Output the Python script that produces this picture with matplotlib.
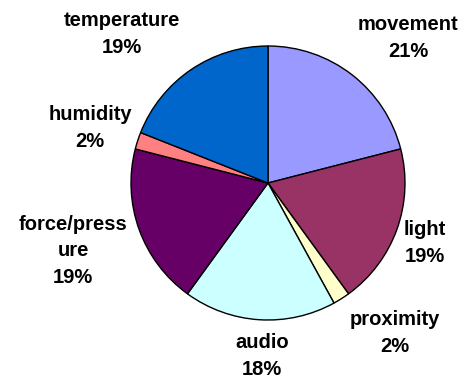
import matplotlib
matplotlib.use("Agg")
import matplotlib.pyplot as plt

categories = ["movement", "light", "proximity", "audio", "force/pressure", "humidity", "temperature"]
values = [21, 19, 2, 18, 19, 2, 19]
label_texts = ["movement\n21%", "light\n19%", "proximity\n2%", "audio\n18%",
               "force/press\nure\n19%", "humidity\n2%", "temperature\n19%"]
colors = ["#9999FF", "#993366", "#FFFFCC", "#CCFFFF", "#660066", "#FF8080", "#0066CC"]

# label centre positions in pixel coordinates (x, y from top)
label_pos = [(408, 38), (425, 243), (395, 333), (262, 356), (73, 251), (90, 128), (122, 34)]

W, H = 469, 381
fig = plt.figure(figsize=(W / 100, H / 100), dpi=100)
ax = fig.add_axes([0, 0, 1, 1])
ax.set_xlim(0, W)
ax.set_ylim(0, H)
ax.axis("off")

ax.pie(values, colors=colors, startangle=90, counterclock=False,
       center=(268, H - 183), radius=137,
       wedgeprops=dict(edgecolor="black", linewidth=1.0))
ax.set_xlim(0, W)
ax.set_ylim(0, H)
ax.set_aspect("equal")

for txt, (x, y) in zip(label_texts, label_pos):
    ax.text(x, H - y, txt, ha="center", va="center", fontsize=14.5,
            fontweight="bold", family="Liberation Sans", linespacing=1.5,
            color="black")

fig.savefig("out.png", dpi=100)
